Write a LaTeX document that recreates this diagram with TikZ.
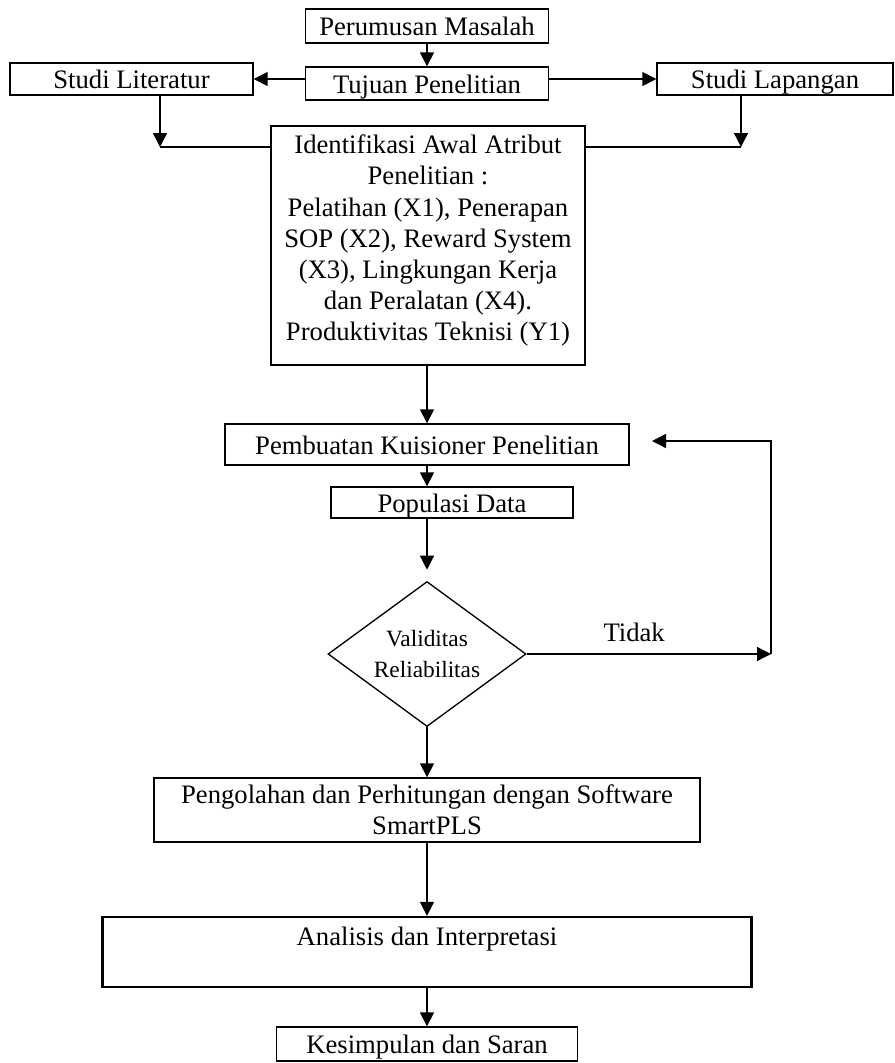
\documentclass[tikz,border=0pt]{standalone}
\usepackage{fontspec}
\setmainfont{Liberation Serif}
\usetikzlibrary{shapes.geometric, arrows.meta}

\begin{document}
\begin{tikzpicture}[->,>={Triangle[length=6.3pt,width=6.3pt]},line width=0.6pt,
	x=0.45pt,y=-0.45pt,font=\fontsize{12}{14}\selectfont]
	\tikzstyle{box}=[draw,rectangle,inner sep=1pt,align=center]
	\tikzstyle{kotak}=[box,text height=9.3pt,text depth=0.7pt]
	\tikzstyle{decision}=[draw,diamond,aspect=1.37,inner sep=0pt,align=center,
		minimum width=89.1pt,minimum height=65.25pt,font=\fontsize{10.5}{14}\selectfont]
	\useasboundingbox (0,0) rectangle (895,1063);
	\node[kotak,minimum width=109.35pt,minimum height=15.3pt] (perumusan) at (427,26) {Perumusan Masalah};
	\node[kotak,minimum width=109.35pt,minimum height=14.85pt] (tujuan) at (427,83.5) {Tujuan Penelitian};
	\node[kotak,minimum width=109.35pt,minimum height=14.4pt] (literatur) at (131.5,79) {Studi Literatur};
	\node[kotak,minimum width=106.2pt,minimum height=14.4pt] (lapangan) at (775,79) {Studi Lapangan};
	\node[box,minimum width=141.3pt,minimum height=107.55pt] (identifikasi) at (428,245.5)
		{Identifikasi Awal Atribut\\Penelitian :\\Pelatihan (X1), Penerapan\\SOP (X2), Reward System\\(X3), Lingkungan Kerja\\dan Peralatan (X4).\\Produktivitas Teknisi (Y1)\\[-7pt]~};
	\node[kotak,minimum width=181.8pt,minimum height=18.45pt] (kuisioner) at (427,444.5) {Pembuatan Kuisioner Penelitian};
	\node[kotak,minimum width=108.9pt,minimum height=13.95pt] (populasi) at (452,502.5) {Populasi Data};
	\node[decision] (uji) at (427,654) {Validitas\\Reliabilitas};
	\node[box,minimum width=245.7pt,minimum height=28.8pt] (pengolahan) at (427,810) {Pengolahan dan Perhitungan dengan Software\\SmartPLS};
	\node[box,line width=1pt,minimum width=292.05pt,minimum height=31.5pt] (analisis) at (427,952) {Analisis dan Interpretasi\\~};
	\node[kotak,minimum width=135.45pt,minimum height=15.3pt] (kesimpulan) at (427,1044) {Kesimpulan dan Saran};

	\coordinate (litturn) at (160,147);
	\coordinate (lapturn) at (741,147);
	\coordinate (ulangR) at (771,654);
	\coordinate (ulangT) at (652,441);

	\path
	(perumusan)  edge  (tujuan)
	(tujuan.west |- literatur) edge (literatur.east)
	(tujuan.east |- lapangan) edge (lapangan.west)
	(literatur.south -| litturn) edge (litturn)
	(lapangan.south -| lapturn) edge (lapturn)
	(identifikasi.south -| kuisioner) edge (kuisioner.north)
	(kuisioner.south) edge (kuisioner.south |- populasi.north)
	(populasi.south -| uji) edge[shorten >=5pt] (uji.north)
	(uji.east) edge node[above,pos=0.44,yshift=2pt] {Tidak} (ulangR)
	(uji.south) edge (pengolahan.north)
	(pengolahan) edge (analisis)
	(analisis) edge (kesimpulan);
	\draw (ulangR) |- (ulangT);
	\draw[-] (litturn) -- (identifikasi.west |- litturn);
	\draw[-] (lapturn) -- (identifikasi.east |- lapturn);
\end{tikzpicture}
\end{document}
